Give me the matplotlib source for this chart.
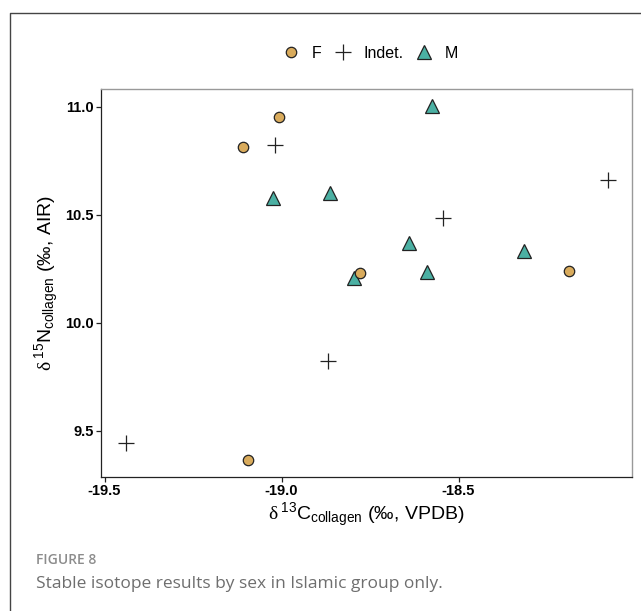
import matplotlib.pyplot as plt
from matplotlib.lines import Line2D

plt.rcParams['font.family'] = ['Liberation Sans', 'DejaVu Sans']
plt.rcParams['mathtext.fontset'] = 'custom'
plt.rcParams['mathtext.rm'] = 'Liberation Sans'
plt.rcParams['mathtext.it'] = 'Liberation Sans:italic'
plt.rcParams['mathtext.sf'] = 'Liberation Serif'

# data
f_x = [-19.110, -19.006, -19.094, -18.777, -18.189]
f_y = [10.816, 10.952, 9.367, 10.230, 10.239]
indet_x = [-19.018, -18.869, -19.440, -18.544, -18.079]
indet_y = [10.824, 9.823, 9.444, 10.485, 10.663]
m_x = [-18.575, -18.863, -19.023, -18.641, -18.314, -18.588, -18.794]
m_y = [11.006, 10.601, 10.578, 10.371, 10.333, 10.237, 10.210]
x_ticks = [-19.5, -19.0, -18.5]
y_ticks = [9.5, 10.0, 10.5, 11.0]

f_color = '#D9AB5C'
m_color = '#4BB0A3'

fig = plt.figure(figsize=(6.41, 6.11), dpi=100)
ax = fig.add_axes([101 / 641, 1 - 477 / 611, 531 / 641, 388 / 611])

ax.plot(m_x, m_y, ls='none', marker='^', ms=10.5, mfc=m_color, mec='#222222', mew=0.9)
ax.plot(f_x, f_y, ls='none', marker='o', ms=7.5, mfc=f_color, mec='#222222', mew=0.9)
ax.plot(indet_x, indet_y, ls='none', marker='+', ms=11, color='#222222', mew=0.9)

ax.set_xlim(-19.51, -18.01)
ax.set_ylim(9.287, 11.083)
ax.set_xticks(x_ticks)
ax.set_yticks(y_ticks)
ax.set_xticklabels([f'{v:.1f}' for v in x_ticks], fontweight='bold', fontsize=10.5)
ax.set_yticklabels([f'{v:.1f}' for v in y_ticks], fontweight='bold', fontsize=10.5)
ax.tick_params(length=3.6, width=0.9, color='#222222', pad=1.5)

for side in ['top', 'right']:
    ax.spines[side].set_color('#999999')
    ax.spines[side].set_linewidth(1.0)
for side in ['left', 'bottom']:
    ax.spines[side].set_color('#222222')
    ax.spines[side].set_linewidth(0.9)

ax.set_xlabel(r'$\mathsf{\delta}^{\;13}\mathrm{C}_{\mathrm{collagen}}$ (‰, VPDB)', fontsize=14, labelpad=2)
ax.set_ylabel(r'$\mathsf{\delta}^{\;15}\mathrm{N}_{\mathrm{collagen}}$ (‰, AIR)', fontsize=14, labelpad=3)

handles = [
    Line2D([], [], ls='none', marker='o', ms=7.5, mfc=f_color, mec='#222222', mew=0.9),
    Line2D([], [], ls='none', marker='+', ms=11, color='#222222', mew=0.9),
    Line2D([], [], ls='none', marker='^', ms=10.5, mfc=m_color, mec='#222222', mew=0.9),
]
fig.legend(handles, ['F', 'Indet.', 'M'], loc='center', bbox_to_anchor=(370 / 641, 1 - 53 / 611),
           ncol=3, frameon=False, fontsize=11.5, handletextpad=0.7, columnspacing=0.7,
           handlelength=1.2)

# card frame
fig.add_artist(Line2D([9.5 / 641, 9.5 / 641, 1.0], [0.0, 1 - 12.5 / 611, 1 - 12.5 / 611],
                      transform=fig.transFigure, color='#444444', lw=1.0))

fig.text(36 / 641, 1 - 560 / 611, 'FIGURE 8', fontsize=10, color='#8c8c8c',
         family=['Open Sans', 'DejaVu Sans'], va='center', ha='left', fontweight='semibold')
fig.text(36 / 641, 1 - 584 / 611, 'Stable isotope results by sex in Islamic group only.',
         fontsize=12.5, color='#6e6e6e', family=['Open Sans', 'DejaVu Sans'], va='center', ha='left')

fig.savefig('out.png', dpi=100)
